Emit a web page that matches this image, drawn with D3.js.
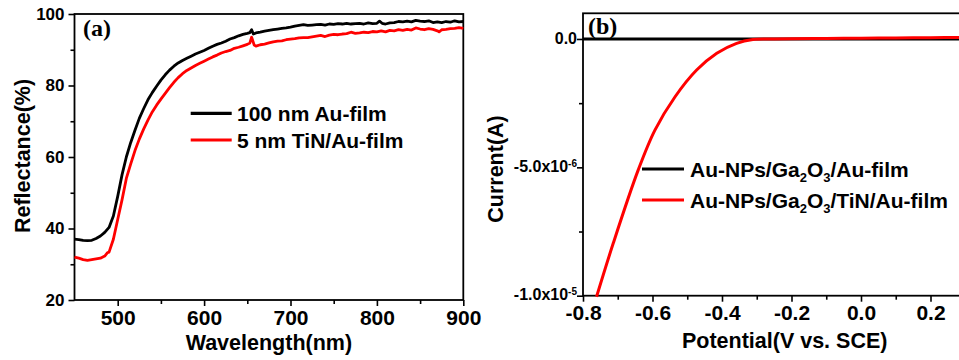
<!DOCTYPE html>
<html><head><meta charset="utf-8">
<script src="https://cdn.jsdelivr.net/npm/d3@7"></script>
<style>
body{margin:0;background:#fff;}
text{font-family:"Liberation Sans",Arial,sans-serif;font-weight:bold;fill:#000;}
.lbl{font-family:"Liberation Serif","Times New Roman",serif;font-weight:bold;}
</style></head><body>
<svg id="c" width="959" height="360"></svg>
<script>
// ---------- Panel (a) data ----------
const waveBlack = [450,455,460,465,470,475,480,485,490,495,500,505,510,515,520,525,530,535,540,545,550,555,560,565,570,575,580,585,590,595,600,605,610,615,620,625,630,635,640,645,650,653,655,657,660,665,670,675,680,685,690,695,700,705,710,715,720,725,730,735,740,745,750,755,760,765,770,775,780,785,790,795,800,803,806,810,815,820,825,830,835,840,845,850,855,860,865,870,875,880,885,890,895,900];
const reflBlack = [37.0,36.9,36.7,36.6,36.7,37.2,37.9,38.9,40.3,43.5,49.0,55.0,60.0,64.0,67.5,70.8,73.5,76.0,78.0,79.8,81.5,83.0,84.3,85.4,86.3,87.0,87.6,88.2,88.8,89.3,89.8,90.4,91.0,91.5,91.9,92.4,93.0,93.4,93.9,94.3,94.6,94.8,95.6,94.4,94.7,94.9,95.2,95.4,95.6,95.8,96.0,96.1,96.3,96.6,96.8,97.0,96.8,96.9,97.0,97.1,96.9,97.2,97.1,97.3,97.2,97.4,97.2,97.3,97.4,97.2,97.5,97.3,97.4,98.0,97.4,97.2,97.5,97.6,97.9,97.8,98.0,97.8,98.2,98.0,97.9,98.1,97.6,97.8,97.6,97.9,97.7,98.1,97.8,97.9];
const waveRed = [450,455,460,465,470,475,480,485,488,490,495,500,505,510,515,520,525,530,535,540,545,550,555,560,565,570,575,580,585,590,595,600,605,610,615,620,625,630,635,640,645,650,653,655,658,660,665,670,675,680,685,690,695,700,705,710,715,720,725,730,735,740,745,750,755,760,765,770,775,780,785,790,795,800,805,810,815,820,825,830,835,840,845,850,855,860,865,870,872,875,880,885,890,895,900];
const reflRed = [32.0,31.7,31.3,31.1,31.3,31.5,31.7,32.3,33.2,33.4,37.0,42.5,48.0,54.0,58.0,61.8,65.0,67.8,70.3,72.6,74.5,76.2,77.8,79.4,80.9,82.2,83.3,84.2,84.9,85.6,86.2,86.8,87.4,88.0,88.5,89.1,89.5,89.8,90.4,90.7,91.1,91.5,91.9,93.5,91.3,91.0,91.4,91.6,91.9,92.2,92.4,92.5,92.8,93.0,93.1,93.3,93.4,93.4,93.6,93.8,94.0,93.7,94.1,94.3,94.2,94.4,94.5,94.9,94.6,94.7,94.9,94.8,95.1,95.0,95.3,95.0,95.4,95.3,95.6,95.4,95.7,95.5,96.1,95.8,95.6,95.9,95.7,95.3,95.0,95.6,95.7,95.9,96.0,96.2,96.0];
const aXTicks = [500,600,700,800,900];
const aXMinor = [550,650,750,850];
const aYTicks = [20,40,60,80,100];
const aYMinor = [30,50,70,90];
const aLegend = ["100 nm Au-film","5 nm TiN/Au-film"];

// ---------- Panel (b) data ----------
const potBlack = [-0.8,-0.6,-0.4,-0.2,0.0,0.2,0.3];
const curBlack = [0,0,0,0,0,0,0];
const potRed = [-0.761,-0.713,-0.641,-0.593,-0.535,-0.473,-0.415,-0.358,-0.311,-0.26,-0.2,-0.1,0.0,0.1,0.2,0.3];
const curRed = [-10.04e-6,-7.96e-6,-5.1e-6,-3.55e-6,-2.25e-6,-1.21e-6,-0.557e-6,-0.168e-6,-0.02e-6,0.0,0.01e-6,0.02e-6,0.03e-6,0.04e-6,0.05e-6,0.06e-6];
const bXTicks = [-0.8,-0.6,-0.4,-0.2,0.0,0.2];
const bXMinor = [-0.7,-0.5,-0.3,-0.1,0.1];
const bYTicks = [0,-5e-6,-1e-5];
const bYTickText = [["0.0",""],["-5.0x10","-6"],["-1.0x10","-5"]];
const bYMinor = [-2.5e-6,-7.5e-6];
const bLegend = [["Au-NPs/Ga","2","O","3","/Au-film"],["Au-NPs/Ga","2","O","3","/TiN/Au-film"]];

const svg = d3.select("#c");
const colors = ["#000000","#ff0000"];

// ===== Panel (a) =====
const xA = d3.scaleLinear().domain([450,900]).range([74.5,463.3]);
const yA = d3.scaleLinear().domain([20,100]).range([300,14]);
const gA = svg.append("g");
gA.append("rect").attr("x",xA(450)).attr("y",yA(100)).attr("width",xA(900)-xA(450)).attr("height",yA(20)-yA(100))
  .attr("fill","none").attr("stroke","#000").attr("stroke-width",1.8);
function styleAxis(g,fs){
  g.select(".domain").remove();
  g.selectAll(".tick line").attr("stroke","#000").attr("stroke-width",1.6);
  g.selectAll("text").style("font-size",fs+"px").style("font-family",'"Liberation Sans",Arial,sans-serif').style("font-weight","bold").attr("fill","#000");
}
gA.append("g").attr("transform",`translate(0,${yA(20)})`)
  .call(d3.axisBottom(xA).tickValues(aXTicks).tickSize(6).tickPadding(4).tickFormat(d3.format("d")))
  .call(g=>styleAxis(g,21));
gA.append("g").attr("transform",`translate(0,${yA(20)})`)
  .call(d3.axisBottom(xA).tickValues(aXMinor).tickSize(4).tickFormat(""))
  .call(g=>styleAxis(g,21));
gA.append("g").attr("transform",`translate(${xA(450)},0)`)
  .call(d3.axisLeft(yA).tickValues(aYTicks).tickSize(6).tickPadding(4).tickFormat(d3.format("d")))
  .call(g=>styleAxis(g,17));
gA.append("g").attr("transform",`translate(${xA(450)},0)`)
  .call(d3.axisLeft(yA).tickValues(aYMinor).tickSize(4).tickFormat(""))
  .call(g=>styleAxis(g,17));
const lineA = d3.line().x(d=>xA(d[0])).y(d=>yA(d[1]));
gA.append("path").datum(waveBlack.map((w,i)=>[w,reflBlack[i]])).attr("d",lineA)
  .attr("fill","none").attr("stroke",colors[0]).attr("stroke-width",2.8).attr("stroke-linejoin","round");
gA.append("path").datum(waveRed.map((w,i)=>[w,reflRed[i]])).attr("d",lineA)
  .attr("fill","none").attr("stroke",colors[1]).attr("stroke-width",2.8).attr("stroke-linejoin","round");
aLegend.forEach((t,i)=>{
  const y = 113.3 + i*26.7;
  gA.append("line").attr("x1",190.7).attr("x2",231.7).attr("y1",y).attr("y2",y).attr("stroke",colors[i]).attr("stroke-width",3.2);
  gA.append("text").attr("x",237).attr("y",y).attr("dy","0.36em").style("font-size","21px").text(t);
});
gA.append("text").attr("class","lbl").attr("x",83).attr("y",36).style("font-size","24px").text("(a)");
gA.append("text").attr("x",(xA(450)+xA(900))/2).attr("y",350).attr("text-anchor","middle").style("font-size","21.5px").text("Wavelength(nm)");
gA.append("text").attr("transform","translate(30,156) rotate(-90)").attr("text-anchor","middle").style("font-size","21.5px").text("Reflectance(%)");

// ===== Panel (b) =====
const xB = d3.scaleLinear().domain([-0.8,0.3]).range([583,965.25]);
const yB = d3.scaleLinear().domain([-1e-5,1e-6]).range([295.7,13.3]);
const gB = svg.append("g");
gB.append("rect").attr("x",xB(-0.8)).attr("y",yB(1e-6)).attr("width",xB(0.3)-xB(-0.8)).attr("height",yB(-1e-5)-yB(1e-6))
  .attr("fill","none").attr("stroke","#000").attr("stroke-width",1.8);
gB.append("g").attr("transform",`translate(0,${yB(-1e-5)})`)
  .call(d3.axisBottom(xB).tickValues(bXTicks).tickSize(6).tickPadding(3).tickFormat(d3.format(".1f")))
  .call(g=>styleAxis(g,21));
gB.selectAll("text").filter(function(){return this.textContent.indexOf("−")>=0;}).text(function(){return this.textContent.replace("−","-");});
gB.append("g").attr("transform",`translate(0,${yB(-1e-5)})`)
  .call(d3.axisBottom(xB).tickValues(bXMinor).tickSize(4).tickFormat(""))
  .call(g=>styleAxis(g,21));
gB.append("g").attr("transform",`translate(${xB(-0.8)},0)`)
  .call(d3.axisLeft(yB).tickValues(bYTicks).tickSize(6).tickFormat(""))
  .call(g=>styleAxis(g,16));
gB.append("g").attr("transform",`translate(${xB(-0.8)},0)`)
  .call(d3.axisLeft(yB).tickValues(bYMinor).tickSize(4).tickFormat(""))
  .call(g=>styleAxis(g,16));
bYTicks.forEach((v,i)=>{
  const t = gB.append("text").attr("x",xB(-0.8)-6).attr("y",yB(v)-1).attr("dy","0.36em").attr("text-anchor","end").style("font-size","16px");
  t.append("tspan").text(bYTickText[i][0]);
  if(bYTickText[i][1]) t.append("tspan").attr("dy","-0.55em").style("font-size","10px").text(bYTickText[i][1]);
});
const lineB = d3.line().x(d=>xB(d[0])).y(d=>yB(d[1])).curve(d3.curveCatmullRom.alpha(0.5));
gB.append("path").datum(potBlack.map((p,i)=>[p,curBlack[i]])).attr("d",lineB)
  .attr("fill","none").attr("stroke",colors[0]).attr("stroke-width",3);
gB.append("path").datum(potRed.map((p,i)=>[p,curRed[i]])).attr("d",lineB)
  .attr("fill","none").attr("stroke",colors[1]).attr("stroke-width",3);
bLegend.forEach((parts,i)=>{
  const y = 169 + i*31;
  gB.append("line").attr("x1",642).attr("x2",684).attr("y1",y).attr("y2",y).attr("stroke",colors[i]).attr("stroke-width",3.2);
  const t = gB.append("text").attr("x",690).attr("y",y).attr("dy","0.36em").style("font-size","21px");
  t.append("tspan").text(parts[0]);
  t.append("tspan").attr("dy","5").style("font-size","13px").text(parts[1]);
  t.append("tspan").attr("dy","-5").text(parts[2]);
  t.append("tspan").attr("dy","5").style("font-size","13px").text(parts[3]);
  t.append("tspan").attr("dy","-5").text(parts[4]);
});
gB.append("text").attr("class","lbl").attr("x",588).attr("y",34).style("font-size","24px").text("(b)");
gB.append("text").attr("x",784.7).attr("y",348).attr("text-anchor","middle").style("font-size","21.5px").text("Potential(V vs. SCE)");
gB.append("text").attr("transform","translate(503,169) rotate(-90)").attr("text-anchor","middle").style("font-size","21.5px").text("Current(A)");
</script>
</body></html>
